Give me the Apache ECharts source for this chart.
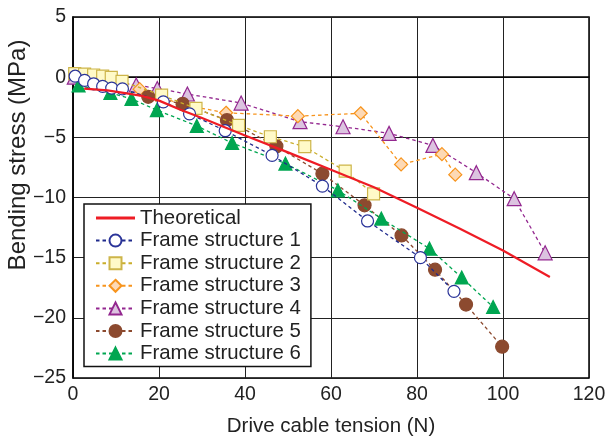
<!DOCTYPE html>
<html>
<head>
<meta charset="utf-8">
<script src="https://cdn.jsdelivr.net/npm/echarts@6/dist/echarts.min.js"></script>
<style>
html,body{margin:0;padding:0;background:#fff;}
#chart{width:605px;height:441px;}
</style>
</head>
<body>
<div id="chart"></div>
<script>
var xTicks = [0, 20, 40, 60, 80, 100, 120];
var yTicks = [5, 0, -5, -10, -15, -20, -25];
var seriesNames = ['Theoretical','Frame structure 1','Frame structure 2','Frame structure 3','Frame structure 4','Frame structure 5','Frame structure 6'];
var xTitle = 'Drive cable tension (N)';
var yTitle = 'Bending stress (MPa)';

var theoretical = [[2.6,-0.95],[8,-1.1],[12.5,-1.35],[16,-1.55],[20,-1.95],[25,-2.7],[30,-3.4],[40,-4.85],[50,-6.25],[60,-7.7],[70,-9.15],[80,-10.85],[90,-12.6],[100,-14.4],[110.9,-16.6]];
var fs1 = [[0.5,0.08],[2.7,-0.27],[4.8,-0.55],[6.9,-0.77],[9.0,-0.91],[11.5,-0.97],[21.0,-2.05],[27.1,-3.05],[35.4,-4.45],[46.3,-6.5],[58.0,-9.05],[68.5,-11.95],[80.8,-15.0],[88.6,-17.8]];
var fs2 = [[0.4,0.3],[2.7,0.25],[4.8,0.18],[6.9,0.08],[8.9,-0.02],[11.4,-0.35],[20.6,-1.5],[28.6,-2.6],[38.5,-4.0],[45.9,-4.95],[53.9,-5.78],[63.3,-7.8],[69.9,-9.7]];
var fs3 = [[15.5,-1.0],[25.5,-2.3],[35.6,-2.96],[52.3,-3.24],[66.9,-3.0],[76.3,-7.25],[85.8,-6.4],[88.9,-8.1]];
var fs4 = [[0.3,0.0],[14.7,-0.65],[19.6,-0.94],[26.6,-1.4],[39.1,-2.15],[52.8,-3.7],[62.8,-4.12],[73.5,-4.67],[83.7,-5.67],[93.8,-7.94],[102.6,-10.1],[109.8,-14.6]];
var fs5 = [[17.5,-1.63],[25.5,-2.22],[35.8,-3.57],[47.3,-5.75],[58.0,-8.02],[67.8,-10.65],[76.4,-13.15],[84.2,-16.0],[91.4,-18.9],[99.8,-22.4]];
var fs6 = [[1.3,-0.69],[8.7,-1.3],[13.6,-1.8],[19.5,-2.74],[28.8,-4.05],[37.0,-5.47],[49.4,-7.18],[61.6,-9.4],[71.7,-11.75],[82.9,-14.25],[90.4,-16.65],[97.7,-19.1]];

var FONT = 'Liberation Sans';
var RED = '#ee1c25';
function dashed(name, data, symbol, size, lineColor, fill, border, z) {
  return {
    name: name, type: 'line', data: data, z: z,
    symbol: symbol, symbolSize: size, showSymbol: true,
    lineStyle: {color: lineColor, width: 1.3, type: [3.5, 3]},
    itemStyle: {color: fill, borderColor: border, borderWidth: 1.2},
    emphasis: {disabled: true}
  };
}
var legendData = seriesNames.map(function (n, i) {
  return i === 0 ? {name: n, icon: 'path://M0 0H40V3H0Z', itemStyle: {color: RED}} : {name: n};
});
var chart = echarts.init(document.getElementById('chart'), null, {renderer: 'canvas'});
chart.setOption({
  animation: false,
  backgroundColor: '#fff',
  textStyle: {fontFamily: FONT},
  grid: {left: 73, top: 17, right: 16, bottom: 63, show: true, borderColor: '#000', borderWidth: 1.5,
         containLabel: false, outerBoundsMode: 'none'},
  graphic: [{
    type: 'text', x: 18, y: 155, rotation: Math.PI / 2,
    style: {text: yTitle, font: '24px "Liberation Sans"', fill: '#222', align: 'center', verticalAlign: 'middle'}
  }],
  legend: {
    data: legendData,
    orient: 'vertical', left: 84, top: 204,
    padding: [4, 10, 3, 11],
    backgroundColor: '#fff', borderColor: '#111', borderWidth: 1.5,
    itemWidth: 39, itemHeight: 15, itemGap: 2.6,
    textStyle: {fontFamily: FONT, fontSize: 20.4, lineHeight: 20, color: '#222'}
  },
  xAxis: {
    type: 'value', min: 0, max: 120, interval: 20,
    name: xTitle, nameLocation: 'middle', nameGap: 38,
    nameTextStyle: {fontFamily: FONT, fontSize: 20.5, color: '#222'},
    axisLine: {show: true, lineStyle: {color: '#000', width: 1.5}},
    axisTick: {show: false},
    axisLabel: {fontFamily: FONT, fontSize: 19.5, color: '#222', margin: 7,
      formatter: function (v) { return xTicks.indexOf(v) >= 0 ? String(v) : ''; }},
    splitLine: {show: true, lineStyle: {color: '#222', width: 1}}
  },
  yAxis: {
    type: 'value', min: -25, max: 5, interval: 5,
    axisLine: {show: true, lineStyle: {color: '#000', width: 1.5}},
    axisTick: {show: false},
    axisLabel: {fontFamily: FONT, fontSize: 19.5, color: '#222', margin: 7,
      formatter: function (v) { return yTicks.indexOf(v) >= 0 ? (v < 0 ? '\u2212' + Math.abs(v) : String(v)) : ''; }},
    splitLine: {show: true, lineStyle: {color: '#222', width: 1}}
  },
  series: [
    dashed(seriesNames[4], fs4, 'triangle', 14, '#93278f', '#dcc3e0', '#93278f', 2),
    dashed(seriesNames[3], fs3, 'diamond', 13, '#f7941d', '#fdd9b5', '#f7941d', 3),
    dashed(seriesNames[5], fs5, 'circle', 13, '#8c4a2f', '#8c4a2f', '#8c4a2f', 4),
    dashed(seriesNames[6], fs6, 'triangle', 13, '#00a651', '#00a651', '#00a651', 5),
    dashed(seriesNames[2], fs2, 'rect', 12, '#c9ad2a', '#fffac8', '#cdb54a', 6),
    dashed(seriesNames[1], fs1, 'circle', 12, '#1f2a8c', '#ffffff', '#2b3499', 7),
    {name: seriesNames[0], type: 'line', data: theoretical, z: 8, symbol: 'none', showSymbol: false,
     lineStyle: {color: RED, width: 2.2}, itemStyle: {color: RED}, emphasis: {disabled: true}}
  ]
});
</script>
</body>
</html>
